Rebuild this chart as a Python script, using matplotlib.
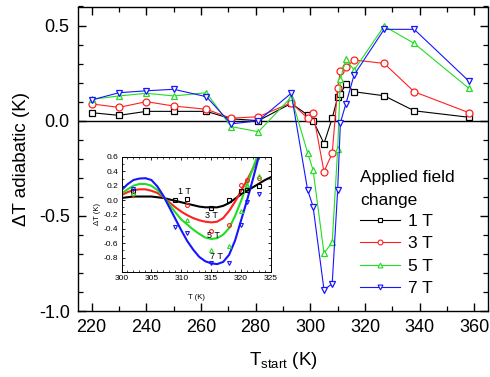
import matplotlib
matplotlib.use("Agg")
import matplotlib.pyplot as plt
from matplotlib.ticker import MultipleLocator

plt.rcParams['font.family'] = ['Liberation Sans', 'DejaVu Sans']

# ---- main data ----
T_start = [220, 230, 240, 250, 262, 271, 281, 293, 299, 301, 305, 308, 310, 311, 313, 316, 327, 338, 358]
dT_1T = [0.042, 0.028, 0.049, 0.049, 0.049, 0.010, 0.000, 0.091, 0.030, 0.000, -0.120, 0.013, 0.123, 0.140, 0.193, 0.152, 0.131, 0.052, 0.018]
dT_3T = [0.088, 0.070, 0.100, 0.077, 0.060, 0.013, 0.021, 0.094, 0.013, 0.042, -0.268, -0.171, 0.170, 0.262, 0.280, 0.319, 0.301, 0.152, 0.042]
dT_5T = [0.112, 0.130, 0.144, 0.130, 0.147, -0.031, -0.058, 0.123, -0.168, -0.259, -0.696, -0.640, -0.150, 0.219, 0.322, 0.266, 0.497, 0.406, 0.170]
dT_7T = [0.109, 0.147, 0.157, 0.165, 0.126, -0.017, 0.000, 0.144, -0.364, -0.451, -0.889, -0.857, -0.364, -0.010, 0.088, 0.240, 0.480, 0.480, 0.208]

labels = ['1 T', '3 T', '5 T', '7 T']
colors = ['#000000', '#ff2020', '#22dd22', '#1515ff']
markers = ['s', 'o', '^', 'v']

# ---- inset data ----
inset_T = [302, 309, 311, 315, 318, 320, 321, 323]
in_1T = [0.12, 0.00, 0.02, -0.11, 0.00, 0.13, 0.14, 0.19]
in_3T = [0.08, None, -0.07, -0.43, -0.35, 0.21, 0.28, 0.31]
in_5T = [0.10, None, -0.27, -0.70, -0.64, -0.15, 0.21, 0.33]
in_7T = [0.15, -0.38, -0.46, -0.88, -0.87, -0.35, -0.02, 0.08]

fit_T = [300, 301, 302, 303, 304, 305, 306, 307, 308, 309, 310, 311, 312,
         313, 314, 315, 316, 317, 318, 319, 320, 321, 322, 323, 324, 325]
fit_1T = [0.03, 0.04, 0.05, 0.05, 0.05, 0.05, 0.04, 0.03, 0.01, -0.01, -0.03, -0.05, -0.07,
          -0.09, -0.10, -0.10, -0.10, -0.08, -0.04, 0.02, 0.08, 0.13, 0.18, 0.23, 0.28, 0.32]
fit_3T = [0.07, 0.11, 0.14, 0.15, 0.15, 0.13, 0.10, 0.04, -0.03, -0.10, -0.16, -0.21, -0.25,
          -0.28, -0.30, -0.31, -0.30, -0.25, -0.15, -0.02, 0.13, 0.28, 0.44, 0.62, None, None]
fit_5T = [0.09, 0.15, 0.20, 0.225, 0.225, 0.20, 0.14, 0.05, -0.06, -0.17, -0.27, -0.34, -0.41,
          -0.47, -0.52, -0.54, -0.53, -0.48, -0.39, -0.22, -0.01, 0.22, 0.45, 0.68, None, None]
fit_7T = [0.14, 0.22, 0.28, 0.30, 0.305, 0.28, 0.19, 0.06, -0.10, -0.26, -0.42, -0.57, -0.69,
          -0.79, -0.85, -0.88, -0.89, -0.86, -0.76, -0.56, -0.28, 0.00, 0.30, 0.62, None, None]


def nn(seq):
    return [v if v is not None else float('nan') for v in seq]


fig = plt.figure(figsize=(4.9, 3.77), dpi=100)
ax = fig.add_axes([78 / 490, 1 - 311 / 377, 410 / 490, (311 - 6.5) / 377])

for y, lab, c, m in zip([dT_1T, dT_3T, dT_5T, dT_7T], labels, colors, markers):
    ax.plot(T_start, y, color=c, lw=0.8, marker=m, ms=5, mfc='white', mec=c, mew=0.9, label=lab)

ax.axhline(0, color='black', lw=1.0, zorder=0)
ax.set_xlim(215, 365)
ax.set_ylim(-1.0, 0.6)
ax.xaxis.set_major_locator(MultipleLocator(20))
ax.xaxis.set_minor_locator(MultipleLocator(10))
ax.yaxis.set_major_locator(MultipleLocator(0.5))
ax.yaxis.set_minor_locator(MultipleLocator(0.1))
ax.yaxis.set_major_formatter(matplotlib.ticker.FormatStrFormatter('%.1f'))
ax.tick_params(which='both', direction='in', top=True, right=True, labelsize=13)
ax.tick_params(which='major', length=6, width=1.0, pad=6)
ax.tick_params(which='minor', length=3.5, width=0.9)
for s in ax.spines.values():
    s.set_linewidth(1.0)
ax.set_ylabel('ΔT adiabatic (K)', fontsize=13.5, labelpad=6)
ax.set_xlabel(r'T$_{\mathregular{start}}$ (K)', fontsize=13.5, labelpad=10)

# legend title drawn as two text lines, entries as a legend
fig.text(360 / 490, 1 - 182 / 377, 'Applied field', fontsize=12.5, ha='left', va='baseline')
fig.text(360 / 490, 1 - 205 / 377, 'change', fontsize=12.5, ha='left', va='baseline')
leg = ax.legend(loc='upper left',
                bbox_to_anchor=(360 / 490, 1 - 214 / 377), bbox_transform=fig.transFigure,
                frameon=False, fontsize=12.5, handlelength=2.3,
                handletextpad=0.45, labelspacing=0.41, borderpad=0, borderaxespad=0)
for h in leg.legend_handles:
    h.set_markersize(3.5)
    h.set_markeredgewidth(0.8)

# ---- inset ----
ins = fig.add_axes([121.5 / 490, 1 - 272 / 377, 149.5 / 490, 115 / 377])
for y, c in zip([fit_1T, fit_3T, fit_5T, fit_7T], colors):
    ins.plot(fit_T, nn(y), color=c, lw=1.5)
for y, c, m in zip([in_1T, in_3T, in_5T, in_7T], colors, markers):
    ins.plot(inset_T, nn(y), ls='none', marker=m, ms=2.8, mfc='none', mec=c, mew=0.8)
ins.set_xlim(300, 325)
ins.set_ylim(-1.0, 0.6)
ins.xaxis.set_major_locator(MultipleLocator(5))
ins.xaxis.set_minor_locator(MultipleLocator(1))
ins.yaxis.set_minor_locator(MultipleLocator(0.1))
ins.set_yticks([0.6, 0.4, 0.2, 0.0, -0.2, -0.4, -0.6, -0.8])
ins.yaxis.set_major_formatter(matplotlib.ticker.FormatStrFormatter('%.1f'))
ins.tick_params(which='both', direction='in', top=True, right=True, labelsize=6, pad=2.5)
ins.tick_params(which='major', length=2.5, width=0.6)
ins.tick_params(which='minor', length=1.5, width=0.5)
for s in ins.spines.values():
    s.set_linewidth(0.7)
ins.set_xlabel('T (K)', fontsize=5.5, labelpad=8)
ins.set_ylabel('ΔT (K)', fontsize=5.5, labelpad=2)
ins.text(310.6, 0.12, '1 T', fontsize=6.5, ha='center', va='center')
ins.text(315.0, -0.21, '3 T', fontsize=6.5, ha='center', va='center')
ins.text(315.4, -0.49, '5 T', fontsize=6.5, ha='center', va='center')
ins.text(315.8, -0.79, '7 T', fontsize=6.5, ha='center', va='center')

fig.savefig('out.png', dpi=100)
